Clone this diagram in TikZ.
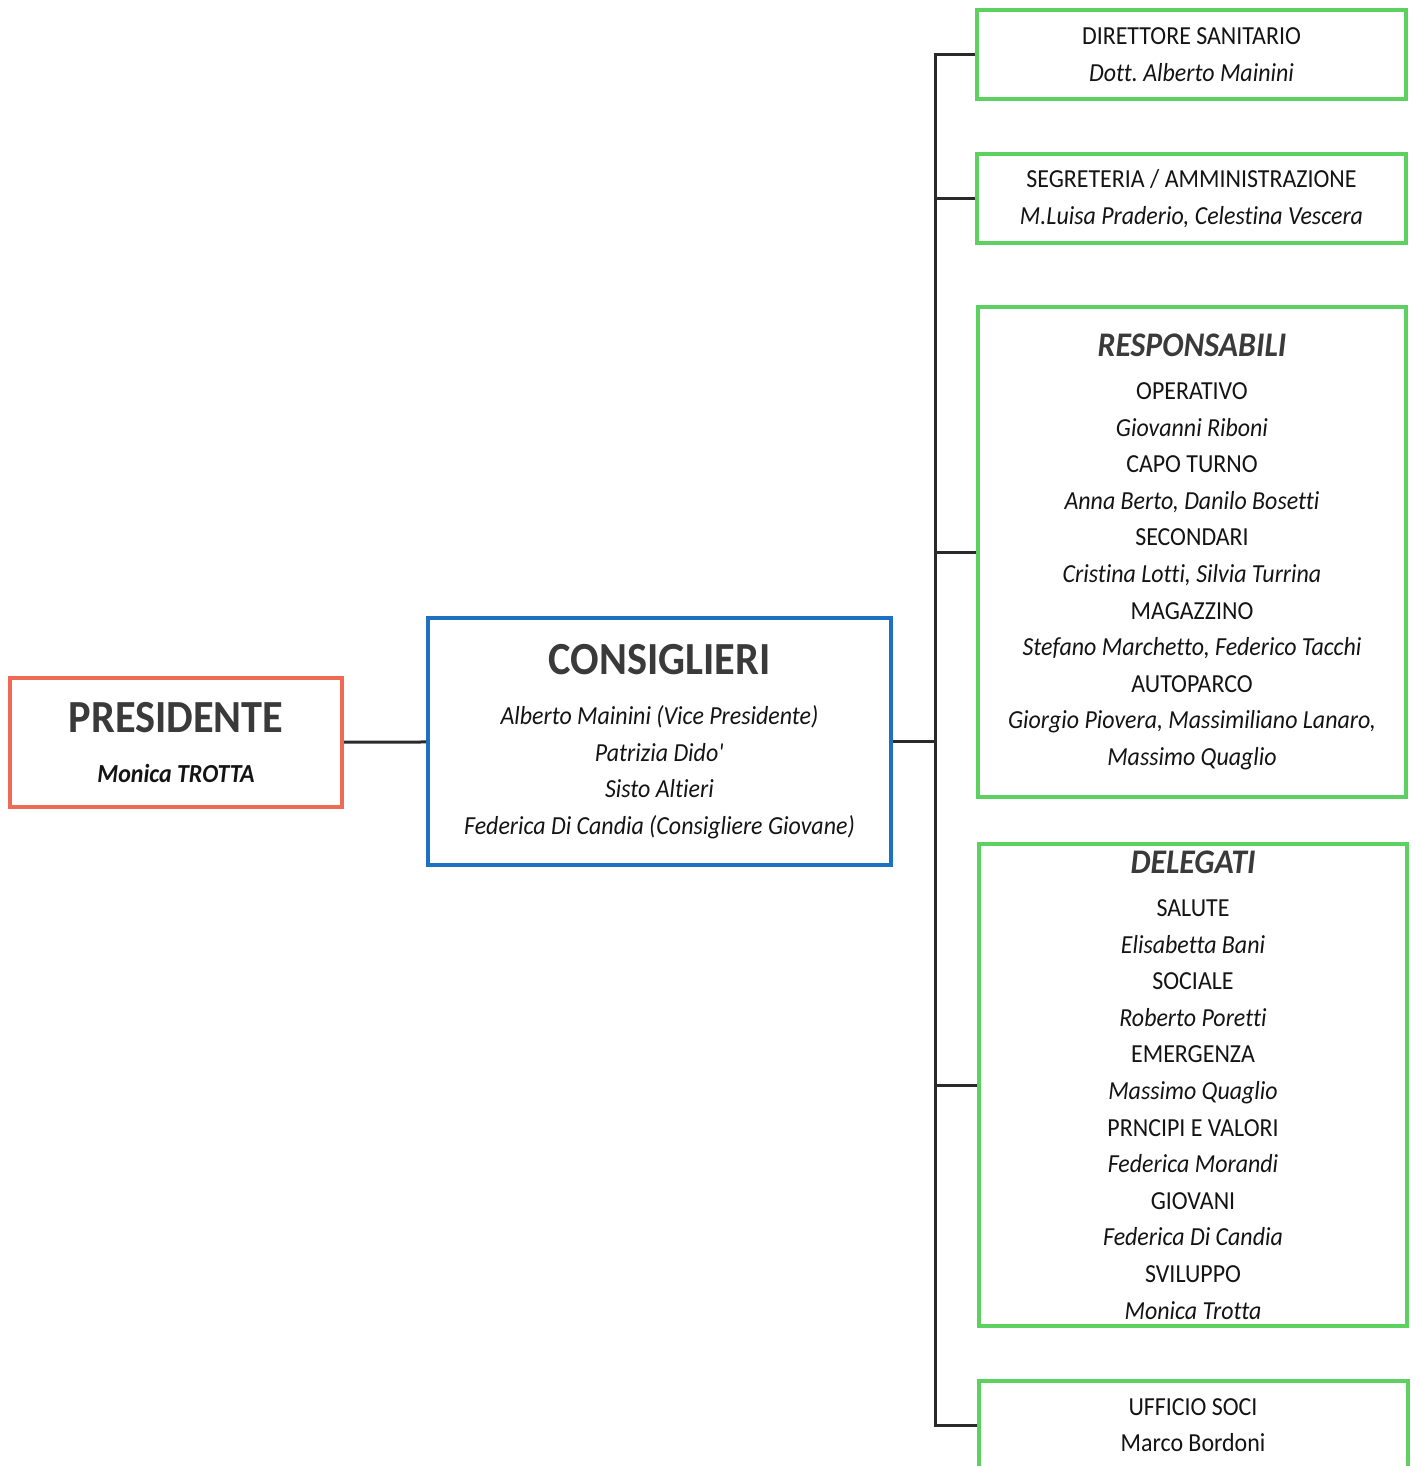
\documentclass[tikz,border=0pt]{standalone}
\usepackage{fontspec}
\setmainfont{Carlito}[FakeStretch=0.92,Ligatures=NoCommon]
\usepackage{tikz}
\frenchspacing

\definecolor{presred}{HTML}{EE6A55}
\definecolor{consblue}{HTML}{1C71C1}
\definecolor{boxgreen}{HTML}{5CD15F}
\definecolor{titlegray}{HTML}{3A3A3A}
\definecolor{txtgray}{HTML}{141414}
\definecolor{wiregray}{HTML}{2A2A2A}

\newcommand{\bigtitle}[1]{{\fontsize{46}{50}\selectfont\bfseries\color{titlegray}#1}}
\newcommand{\subtitle}[1]{{\fontsize{34.5}{36.6}\selectfont\bfseries\itshape\color{titlegray}#1}}

\begin{document}
\begin{tikzpicture}[x=1pt,y=-1pt]
    \tikzstyle{box}=[draw,line width=4pt,inner sep=0pt,align=center,fill=white,text=txtgray,font=\fontsize{26}{36.6}\selectfont]
    \tikzstyle{pres}=[box,draw=presred,minimum width=332,minimum height=129]
    \tikzstyle{cons}=[box,draw=consblue,minimum width=463,minimum height=247]
    \tikzstyle{small}=[box,draw=boxgreen,minimum width=429,minimum height=89]
    \tikzstyle{large}=[box,draw=boxgreen,minimum width=428]
    \tikzstyle{wire}=[draw=wiregray,line width=3pt]

    \useasboundingbox (0,0) rectangle (1415,1466);

    \node[pres]  (pres) at (176,742.5)  {\bigtitle{PRESIDENTE}\\[13.4pt]\textbf{\textit{Monica TROTTA}}};
    \node[cons]  (cons) at (659.5,741.5) {\bigtitle{CONSIGLIERI}\\[13.4pt]
        \textit{Alberto Mainini (Vice Presidente)}\\\textit{Patrizia Dido\textquotesingle}\\
        \textit{Sisto Altieri}\\\textit{Federica Di Candia (Consigliere Giovane)}};

    \node[small] (dir)  at (1191.5,54.5)  {DIRETTORE SANITARIO\\\textit{Dott. Alberto Mainini}};
    \node[small] (segr) at (1191.5,198.5) {SEGRETERIA / AMMINISTRAZIONE\\\textit{M.Luisa Praderio, Celestina Vescera}};
    \node[large,minimum height=490] (resp) at (1192,552) {\subtitle{RESPONSABILI}\\[6.4pt]
        OPERATIVO\\\textit{Giovanni Riboni}\\
        CAPO TURNO\\\textit{Anna Berto, Danilo Bosetti}\\
        SECONDARI\\\textit{Cristina Lotti, Silvia Turrina}\\
        MAGAZZINO\\\textit{Stefano Marchetto, Federico Tacchi}\\
        AUTOPARCO\\\textit{Giorgio Piovera, Massimiliano Lanaro,}\\\textit{Massimo Quaglio}};
    \node[large,minimum height=482] (dele) at (1193,1085) {\subtitle{DELEGATI}\\[6.4pt]
        SALUTE\\\textit{Elisabetta Bani}\\
        SOCIALE\\\textit{Roberto Poretti}\\
        EMERGENZA\\\textit{Massimo Quaglio}\\
        PRNCIPI E VALORI\\\textit{Federica Morandi}\\
        GIOVANI\\\textit{Federica Di Candia}\\
        SVILUPPO\\\textit{Monica Trotta}};
    \node[small] (soci) at (1193,1425) {UFFICIO SOCI\\Marco Bordoni};

    % tronco verticale
    \coordinate (hub) at (935,741.5);
    \draw[wire] (pres) -- (cons);
    \draw[wire] (cons) -- (hub);
    \draw[wire] (dir.west) -| (hub) |- (soci.west);
    \draw[wire] (segr.west) -- (segr.west -| hub);
    \draw[wire] (resp.west) -- (resp.west -| hub);
    \draw[wire] (dele.west) -- (dele.west -| hub);
\end{tikzpicture}
\end{document}
